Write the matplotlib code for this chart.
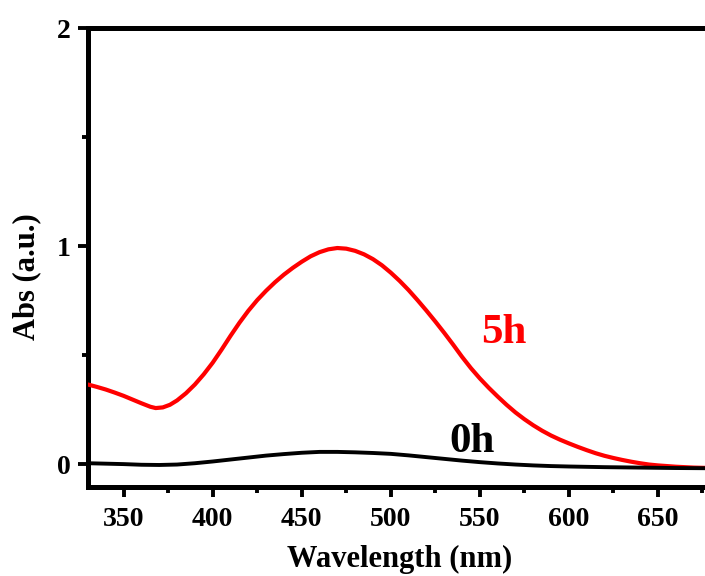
import matplotlib
matplotlib.use("Agg")
import matplotlib.pyplot as plt

wl_5h = [330, 335, 340, 345, 350, 355, 360, 365, 368, 372, 376, 380, 385, 390,
         395, 400, 405, 410, 415, 420, 425, 430, 435, 440, 445, 450, 455, 460,
         465, 470, 475, 480, 485, 490, 495, 500, 505, 510, 515, 520, 525, 530,
         535, 540, 545, 550, 555, 560, 565, 570, 575, 580, 585, 590, 595, 600,
         605, 610, 615, 620, 625, 630, 635, 640, 645, 650, 655, 660, 670, 680]
abs_5h = [0.365, 0.354, 0.342, 0.328, 0.313, 0.296, 0.279, 0.263, 0.257, 0.260,
          0.272, 0.292, 0.325, 0.365, 0.412, 0.465, 0.525, 0.588, 0.648, 0.703,
          0.752, 0.795, 0.834, 0.869, 0.900, 0.928, 0.953, 0.972, 0.985, 0.991,
          0.988, 0.978, 0.962, 0.940, 0.912, 0.878, 0.840, 0.798, 0.752, 0.704,
          0.654, 0.602, 0.548, 0.492, 0.440, 0.393, 0.350, 0.310, 0.272, 0.237,
          0.206, 0.178, 0.153, 0.131, 0.112, 0.095, 0.079, 0.064, 0.050, 0.038,
          0.028, 0.019, 0.011, 0.004, -0.002, -0.006, -0.009, -0.012, -0.016,
          -0.018]

wl_0h = [330, 340, 350, 360, 370, 380, 390, 400, 410, 420, 430, 440, 450, 460,
         470, 480, 490, 500, 510, 520, 530, 540, 550, 560, 570, 580, 590, 600,
         620, 640, 660, 680]
abs_0h = [0.004, 0.002, 0.000, -0.003, -0.004, -0.002, 0.004, 0.012, 0.021,
          0.030, 0.039, 0.046, 0.052, 0.056, 0.056, 0.054, 0.051, 0.047, 0.040,
          0.032, 0.024, 0.016, 0.009, 0.003, -0.002, -0.006, -0.009, -0.011,
          -0.014, -0.016, -0.018, -0.019]

x_major = [350, 400, 450, 500, 550, 600, 650]
x_minor = [375, 425, 475, 525, 575, 625, 675]
y_major = [0, 1, 2]
y_minor = [0.5, 1.5]

FONT = "Liberation Serif"
W, H = 705, 576
fig = plt.figure(figsize=(W / 100, H / 100), dpi=100)
ax = fig.add_axes([88 / W, 1 - 487 / H, (747 - 88) / W, (487 - 28) / H])

ax.plot(wl_5h, abs_5h, color="#ff0000", lw=3.0, solid_capstyle="round",
        solid_joinstyle="round", zorder=3)
ax.plot(wl_0h, abs_0h, color="black", lw=2.8, solid_capstyle="round",
        solid_joinstyle="round", zorder=3)

ax.set_xlim(330, 700)
ax.set_ylim(-0.105, 2)
ax.set_xticks(x_major)
ax.set_xticks(x_minor, minor=True)
ax.set_yticks(y_major)
ax.set_yticks(y_minor, minor=True)
ax.set_xticklabels([str(v) for v in x_major])
ax.set_yticklabels([str(v) for v in y_major])

for s in ax.spines.values():
    s.set_linewidth(3.6)
ax.spines["right"].set_visible(False)

ax.tick_params(which="major", direction="out", length=7.5, width=2.8,
               labelsize=20, pad=5)
ax.tick_params(which="minor", direction="out", length=4.5, width=2.8)
ax.tick_params(axis="x", which="major", pad=7)
for lab in ax.get_xticklabels() + ax.get_yticklabels():
    lab.set_fontfamily(FONT)
    lab.set_fontweight("bold")

ax.text(551, 0.555, "5h", color="#ff0000", fontsize=31, fontweight="bold",
        family=FONT, ha="left", va="baseline")
ax.text(533, 0.055, "0h", color="black", fontsize=31, fontweight="bold",
        family=FONT, ha="left", va="baseline")

fig.text(400 / W, 1 - 559 / H, "Wavelength (nm)", fontsize=22, fontweight="bold",
         family=FONT, ha="center", va="center")
fig.text(27 / W, 1 - 277 / H, "Abs (a.u.)", fontsize=22, fontweight="bold",
         family=FONT, ha="center", va="center", rotation=90)

fig.savefig("out.png", dpi=100)
